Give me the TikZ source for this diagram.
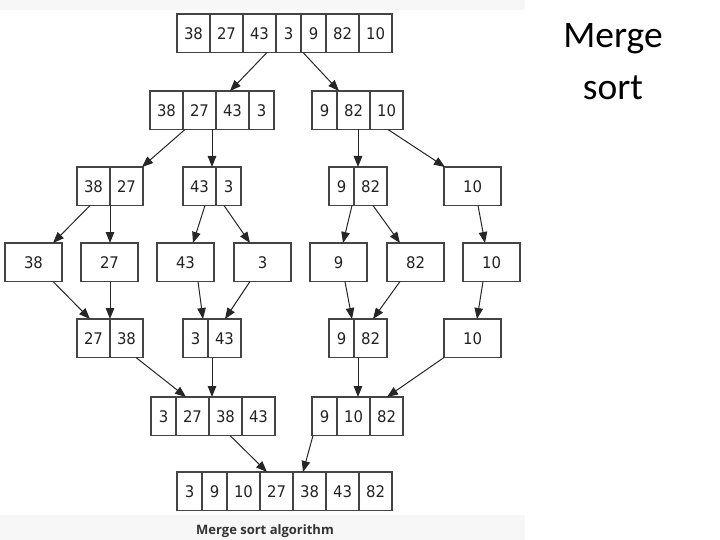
\documentclass[tikz,border=0pt]{standalone}
\usepackage{fontspec}
\newfontfamily\boxfont[FakeStretch=0.93]{DejaVu Sans}
\newfontfamily\titlefont{Carlito}
\newfontfamily\capfont{Open Sans}
\usetikzlibrary{arrows.meta}
\definecolor{edgegray}{HTML}{444444}
\definecolor{txtgray}{HTML}{222222}
\definecolor{bandgray}{HTML}{F7F7F7}
\tikzset{
  cell/.style={draw=edgegray, line width=1.1pt, text=txtgray,
    font=\boxfont\fontsize{16}{18}\selectfont, inner sep=0pt, outer sep=0pt,
    minimum height=38.5pt, anchor=north west},
  wa/.style={cell, minimum width=25pt},
  wb/.style={cell, minimum width=33pt},
  wc/.style={cell, minimum width=57pt},
  arr/.style={draw=black!85, line width=1.0pt, -{Triangle[length=11pt,width=8.5pt]}}
}
\newcommand{\conn}[4]{\draw[arr] ([xshift=#2pt]#1.south west) -- ([xshift=#4pt]#3.north west);}
\begin{document}
\begin{tikzpicture}[x=1pt,y=-1pt]
\useasboundingbox (0,0) rectangle (720,540);
\fill[bandgray] (0,0) rectangle (525,10);
\fill[bandgray] (0,515) rectangle (525,540);
% row 1
\node[wb] (r1) at (177,14) {38};
\node[wb] (r1-2) at (r1.north east) {27};
\node[wb] (r1-3) at (r1-2.north east) {43};
\node[wa] (r1-4) at (r1-3.north east) {3};
\node[wa] (r1-5) at (r1-4.north east) {9};
\node[wb] (r1-6) at (r1-5.north east) {82};
\node[wb] (r1-7) at (r1-6.north east) {10};
% row 2
\node[wb] (r2a) at (150,91) {38};
\node[wb] (r2a-2) at (r2a.north east) {27};
\node[wb] (r2a-3) at (r2a-2.north east) {43};
\node[wa] (r2a-4) at (r2a-3.north east) {3};
\node[wa] (r2b) at (312,91) {9};
\node[wb] (r2b-2) at (r2b.north east) {82};
\node[wb] (r2b-3) at (r2b-2.north east) {10};
% row 3
\node[wb] (r3a) at (77,167) {38};
\node[wb] (r3a-2) at (r3a.north east) {27};
\node[wb] (r3b) at (183,167) {43};
\node[wa] (r3b-2) at (r3b.north east) {3};
\node[wa] (r3c) at (329,167) {9};
\node[wb] (r3c-2) at (r3c.north east) {82};
\node[wc] (r3d) at (444,167) {10};
% row 4
\node[wc] (r4a) at (5,243) {38};
\node[wc] (r4b) at (81,243) {27};
\node[wc] (r4c) at (157,243) {43};
\node[wc] (r4d) at (234,243) {3};
\node[wc] (r4e) at (310,243) {9};
\node[wc] (r4f) at (387,243) {82};
\node[wc] (r4g) at (463,243) {10};
% row 5
\node[wb] (r5a) at (77,319) {27};
\node[wb] (r5a-2) at (r5a.north east) {38};
\node[wa] (r5b) at (183,319) {3};
\node[wb] (r5b-2) at (r5b.north east) {43};
\node[wa] (r5c) at (329,319) {9};
\node[wb] (r5c-2) at (r5c.north east) {82};
\node[wc] (r5d) at (444,319) {10};
% row 6
\node[wa] (r6a) at (151,397) {3};
\node[wb] (r6a-2) at (r6a.north east) {27};
\node[wb] (r6a-3) at (r6a-2.north east) {38};
\node[wb] (r6a-4) at (r6a-3.north east) {43};
\node[wa] (r6b) at (312,397) {9};
\node[wb] (r6b-2) at (r6b.north east) {10};
\node[wb] (r6b-3) at (r6b-2.north east) {82};
% row 7
\node[wa] (r7) at (177,472) {3};
\node[wa] (r7-2) at (r7.north east) {9};
\node[wb] (r7-3) at (r7-2.north east) {10};
\node[wb] (r7-4) at (r7-3.north east) {27};
\node[wb] (r7-5) at (r7-4.north east) {38};
\node[wb] (r7-6) at (r7-5.north east) {43};
\node[wb] (r7-7) at (r7-6.north east) {82};
% connectors
\conn{r1}{90}{r2a}{80}
\conn{r1}{126}{r2b}{27}
\conn{r2a}{35}{r3a}{65}
\conn{r2a}{62}{r3b}{29}
\conn{r2b}{46}{r3c}{29}
\conn{r2b}{76}{r3d}{1}
\conn{r3a}{13}{r4a}{48}
\conn{r3a}{33}{r4b}{29}
\conn{r3b}{22}{r4c}{36}
\conn{r3b}{41}{r4d}{16}
\conn{r3c}{23}{r4e}{33}
\conn{r3c}{44}{r4f}{13}
\conn{r3d}{34}{r4g}{22}
\conn{r4a}{48}{r5a}{13}
\conn{r4b}{29}{r5a}{33}
\conn{r4c}{41}{r5b}{20}
\conn{r4d}{16}{r5b}{42}
\conn{r4e}{35}{r5c}{23}
\conn{r4f}{13}{r5c}{44}
\conn{r4g}{20}{r5d}{33}
\conn{r5a}{59}{r6a}{35}
\conn{r5b}{29}{r6a}{61}
\conn{r5c}{29}{r6b}{46}
\conn{r5d}{0}{r6b}{75}
\conn{r6a}{79}{r7}{90}
\conn{r6b}{1}{r7}{126}
% title and caption
\node[font=\titlefont\fontsize{37.5}{52}\selectfont, align=center, anchor=base] (title) at (613,100) {Merge\\sort};
\node[font=\capfont\bfseries\fontsize{13}{15}\selectfont, text=black!80] (cap) at (265,531) {Merge sort algorithm};
\end{tikzpicture}
\end{document}
